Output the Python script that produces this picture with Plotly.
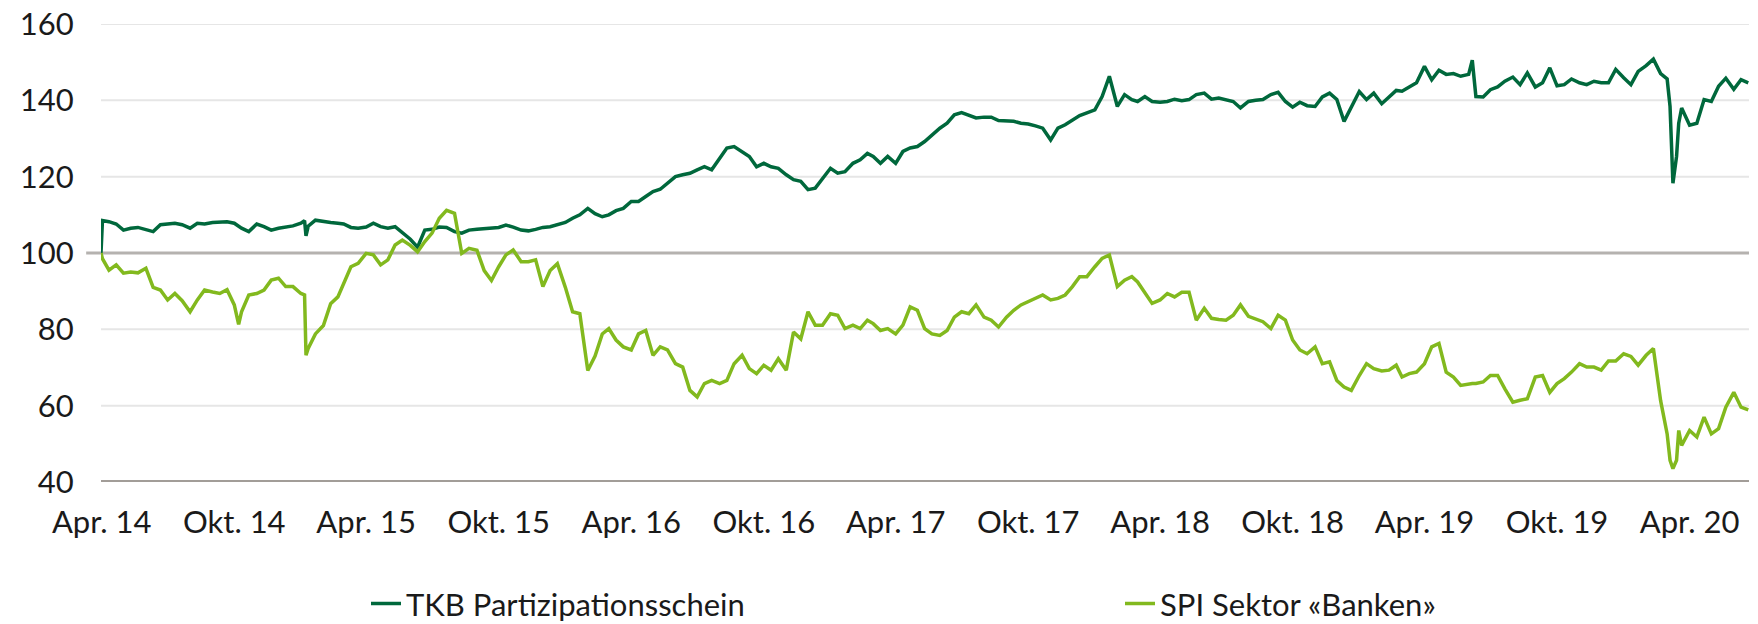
import plotly.graph_objects as go

dates = [
"2014-03-31","2014-04-02","2014-04-11","2014-04-21","2014-05-01","2014-05-11","2014-05-21","2014-06-01","2014-06-11","2014-06-21",
"2014-07-01","2014-07-11","2014-07-21","2014-08-01","2014-08-11","2014-08-21","2014-09-01","2014-09-11","2014-09-21","2014-10-01",
"2014-10-07","2014-10-11","2014-10-21","2014-11-01","2014-11-11","2014-11-21","2014-12-01","2014-12-11","2014-12-21","2015-01-01",
"2015-01-06","2015-01-08","2015-01-11","2015-01-21","2015-02-01","2015-02-11","2015-02-21","2015-03-01","2015-03-11","2015-03-21",
"2015-04-01","2015-04-11","2015-04-21","2015-05-01","2015-05-11","2015-05-21","2015-06-01","2015-06-11","2015-06-21","2015-07-01",
"2015-07-11","2015-07-21","2015-08-01","2015-08-11","2015-08-21","2015-09-01","2015-09-11","2015-09-21","2015-10-01","2015-10-11",
"2015-10-21","2015-11-01","2015-11-11","2015-11-21","2015-12-01","2015-12-11","2015-12-21","2016-01-01","2016-01-11","2016-01-21",
"2016-02-01","2016-02-11","2016-02-21","2016-03-01","2016-03-11","2016-03-21","2016-04-01","2016-04-11","2016-04-21","2016-05-01",
"2016-05-11","2016-05-21","2016-06-01","2016-06-11","2016-06-21","2016-07-01","2016-07-11","2016-07-21","2016-08-01","2016-08-11",
"2016-08-21","2016-09-01","2016-09-11","2016-09-21","2016-10-01","2016-10-11","2016-10-21","2016-11-01","2016-11-11","2016-11-21",
"2016-12-01","2016-12-11","2016-12-21","2017-01-01","2017-01-11","2017-01-21","2017-02-01","2017-02-11","2017-02-21","2017-03-01",
"2017-03-11","2017-03-21","2017-04-01","2017-04-11","2017-04-21","2017-05-01","2017-05-11","2017-05-21","2017-06-01","2017-06-11",
"2017-06-21","2017-07-01","2017-07-11","2017-07-21","2017-08-01","2017-08-11","2017-08-21","2017-09-01","2017-09-11","2017-09-21",
"2017-10-01","2017-10-11","2017-10-21","2017-11-01","2017-11-11","2017-11-21","2017-12-01","2017-12-11","2017-12-21","2018-01-01",
"2018-01-11","2018-01-21","2018-02-01","2018-02-11","2018-02-21","2018-03-01","2018-03-11","2018-03-21","2018-04-01","2018-04-11",
"2018-04-21","2018-05-01","2018-05-11","2018-05-21","2018-06-01","2018-06-11","2018-06-21","2018-07-01","2018-07-11","2018-07-21",
"2018-08-01","2018-08-11","2018-08-21","2018-09-01","2018-09-11","2018-09-21","2018-10-01","2018-10-11","2018-10-21","2018-11-01",
"2018-11-11","2018-11-21","2018-12-01","2018-12-11","2018-12-21","2019-01-01","2019-01-11","2019-01-21","2019-02-01","2019-02-11",
"2019-02-21","2019-03-01","2019-03-11","2019-03-21","2019-04-01","2019-04-11","2019-04-21","2019-05-01","2019-05-11","2019-05-21",
"2019-06-01","2019-06-06","2019-06-11","2019-06-21","2019-07-01","2019-07-11","2019-07-21","2019-08-01","2019-08-11","2019-08-21",
"2019-09-01","2019-09-11","2019-09-21","2019-10-01","2019-10-11","2019-10-21","2019-11-01","2019-11-11","2019-11-21","2019-12-01",
"2019-12-11","2019-12-21","2020-01-01","2020-01-11","2020-01-21","2020-02-01","2020-02-11","2020-02-21","2020-03-01","2020-03-05",
"2020-03-09","2020-03-11","2020-03-14","2020-03-17","2020-03-21","2020-04-01","2020-04-11","2020-04-21","2020-05-01","2020-05-11",
"2020-05-21","2020-06-01","2020-06-11","2020-06-21",
]

tkb = [
100.0,108.5,108.2,107.6,106.0,106.5,106.7,106.1,105.6,107.4,
107.6,107.8,107.4,106.5,107.8,107.6,108.0,108.2,108.2,107.8,
107.0,106.5,105.6,107.6,106.9,106.0,106.5,106.9,107.1,107.8,
108.5,104.5,107.0,108.6,108.4,108.0,107.8,107.6,106.7,106.5,
106.8,107.8,106.9,106.5,106.9,105.2,103.6,101.5,106.0,106.2,
106.8,106.7,105.6,105.2,106.0,106.2,106.4,106.5,106.7,107.3,
106.8,106.0,105.8,106.2,106.7,106.9,107.4,108.0,109.1,110.0,
111.7,110.3,109.5,110.0,111.1,111.7,113.5,113.5,114.8,116.1,
116.7,118.4,120.0,120.5,120.9,121.8,122.6,121.8,124.9,127.5,
127.9,126.6,125.3,122.6,123.5,122.6,122.2,120.5,119.2,118.8,
116.6,117.0,119.6,122.2,120.9,121.3,123.5,124.4,126.1,125.3,
123.5,125.3,123.5,126.6,127.5,127.9,129.2,130.9,132.7,134.0,
136.2,136.8,136.2,135.4,135.6,135.6,134.7,134.7,134.5,134.0,
133.8,133.3,132.7,129.6,132.7,133.6,134.7,136.0,136.7,137.5,
141.0,146.3,138.4,141.5,140.2,139.7,141.0,139.7,139.5,139.7,
140.3,139.9,140.2,141.5,141.9,140.3,140.6,140.2,139.7,138.0,
139.7,140.0,140.2,141.5,142.1,139.7,138.2,139.5,138.6,138.4,
140.9,141.9,140.2,134.5,138.4,142.3,140.2,141.9,139.1,141.0,
142.6,142.4,143.5,144.6,148.9,145.4,147.9,146.8,147.0,146.3,
146.8,150.5,141.0,140.9,142.8,143.5,145.0,146.1,144.1,147.2,
143.5,144.6,148.5,143.8,144.1,145.6,144.6,144.1,145.0,144.6,
144.6,148.1,145.9,144.1,147.6,149.1,150.8,147.0,145.6,138.4,
118.3,121.8,125.3,134.0,138.0,133.5,134.0,140.2,139.7,143.7,
145.8,142.9,145.4,144.6,
]

spi = [
100.0,98.5,95.5,96.9,94.7,95.0,94.8,96.0,91.0,90.3,
87.7,89.4,87.5,84.6,87.7,90.3,89.8,89.4,90.4,86.4,
81.3,84.6,89.0,89.4,90.3,92.9,93.4,91.2,91.2,89.4,
89.0,73.2,75.0,78.8,81.0,86.7,88.5,92.0,96.4,97.3,
99.9,99.5,96.9,98.2,102.1,103.4,102.0,100.3,103.0,105.2,
109.1,111.2,110.4,99.9,101.2,100.7,95.4,92.8,96.4,99.5,
100.8,97.7,97.7,98.2,91.2,95.4,97.2,91.0,84.6,84.1,
69.2,73.0,78.8,80.2,77.2,75.4,74.6,78.8,79.7,73.2,
75.4,74.6,71.0,70.1,64.0,62.3,65.8,66.6,65.8,66.6,
71.0,73.2,69.7,68.4,70.6,69.3,72.3,69.3,79.3,77.5,
84.6,81.1,81.1,84.1,83.7,80.2,81.1,80.2,82.4,81.5,
79.7,80.2,78.8,81.1,85.9,85.0,80.2,78.8,78.4,79.7,
83.2,84.6,84.1,86.4,83.2,82.4,80.6,83.2,85.0,86.4,
87.3,88.1,89.0,87.7,88.1,89.0,91.2,93.8,93.8,96.4,
98.6,99.5,91.2,92.9,93.8,92.4,89.4,86.8,87.7,89.4,
88.5,89.7,89.7,82.4,85.5,82.9,82.6,82.4,83.7,86.4,
83.4,82.6,82.0,80.2,83.7,82.4,77.2,74.6,73.6,75.4,
71.0,71.5,66.6,64.9,64.0,67.9,71.0,69.7,69.1,69.3,
70.6,67.5,68.4,68.8,71.0,75.4,76.3,68.8,67.5,65.3,
65.8,65.8,65.8,66.2,67.9,67.9,64.4,60.9,61.4,61.8,
67.5,67.9,63.5,65.8,67.1,68.8,71.0,70.1,70.1,69.3,
71.7,71.7,73.6,72.9,70.6,73.2,75.0,61.3,52.6,45.7,
43.5,44.4,45.7,53.5,49.6,53.5,51.8,57.0,52.6,54.0,
59.6,63.5,59.6,58.9,
]

tick_dates = ["2014-04-01","2014-10-01","2015-04-01","2015-10-01","2016-04-01","2016-10-01",
              "2017-04-01","2017-10-01","2018-04-01","2018-10-01","2019-04-01","2019-10-01","2020-04-01"]
tick_labels = ["Apr. 14","Okt. 14","Apr. 15","Okt. 15","Apr. 16","Okt. 16",
               "Apr. 17","Okt. 17","Apr. 18","Okt. 18","Apr. 19","Okt. 19","Apr. 20"]
y_ticks = [40, 60, 80, 100, 120, 140, 160]
light_grid = [60, 80, 120, 140, 160]

C_TKB = "#00683c"
C_SPI = "#82b91e"
FONT = "Lato"
TXT = "#1a1a1a"

fig = go.Figure()
fig.add_trace(go.Scatter(x=dates, y=tkb, mode="lines", name="TKB Partizipationsschein",
                         line=dict(color=C_TKB, width=3.5), legend="legend"))
fig.add_trace(go.Scatter(x=dates, y=spi, mode="lines", name="SPI Sektor «Banken»",
                         line=dict(color=C_SPI, width=3.5), legend="legend2"))

shapes = []
for g in light_grid:
    shapes.append(dict(type="line", xref="paper", yref="y", x0=0, x1=1, y0=g, y1=g,
                       line=dict(color="#e6e6e6", width=2), layer="below"))
shapes.append(dict(type="line", xref="paper", yref="y", x0=-0.009, x1=1, y0=100, y1=100,
                   line=dict(color="#b5b2af", width=3), layer="below"))
shapes.append(dict(type="line", xref="paper", yref="y", x0=0, x1=1, y0=40, y1=40,
                   line=dict(color="#a29d98", width=4), layer="below"))

PLOT_L, PLOT_W = 101, 1648
legend_common = dict(orientation="h", xanchor="left", y=-0.266, yanchor="middle",
                     font=dict(family=FONT, size=31, color=TXT), bgcolor="rgba(0,0,0,0)")

fig.update_layout(
    width=1758, height=624,
    margin=dict(l=PLOT_L, r=9, t=24, b=142, autoexpand=False),
    paper_bgcolor="white", plot_bgcolor="white",
    font=dict(family=FONT, size=31, color=TXT),
    shapes=shapes,
    showlegend=True,
    legend=dict(x=(366 - PLOT_L) / PLOT_W, **legend_common),
    legend2=dict(x=(1120 - PLOT_L) / PLOT_W, **legend_common),
    xaxis=dict(type="date", range=["2014-03-31", "2020-06-22"],
               tickvals=tick_dates, ticktext=tick_labels,
               showgrid=False, zeroline=False, showline=False,
               ticks="outside", ticklen=13, tickcolor="rgba(0,0,0,0)",
               tickfont=dict(family=FONT, size=31, color=TXT)),
    yaxis=dict(range=[40, 160], tickvals=y_ticks,
               showgrid=False, zeroline=False, showline=False,
               ticks="outside", ticklen=20, tickcolor="rgba(0,0,0,0)",
               tickfont=dict(family=FONT, size=31, color=TXT)),
)

fig.write_html("out.html", config={"displayModeBar": False},
               post_script="document.body.style.margin='0';document.body.style.overflow='hidden';")
